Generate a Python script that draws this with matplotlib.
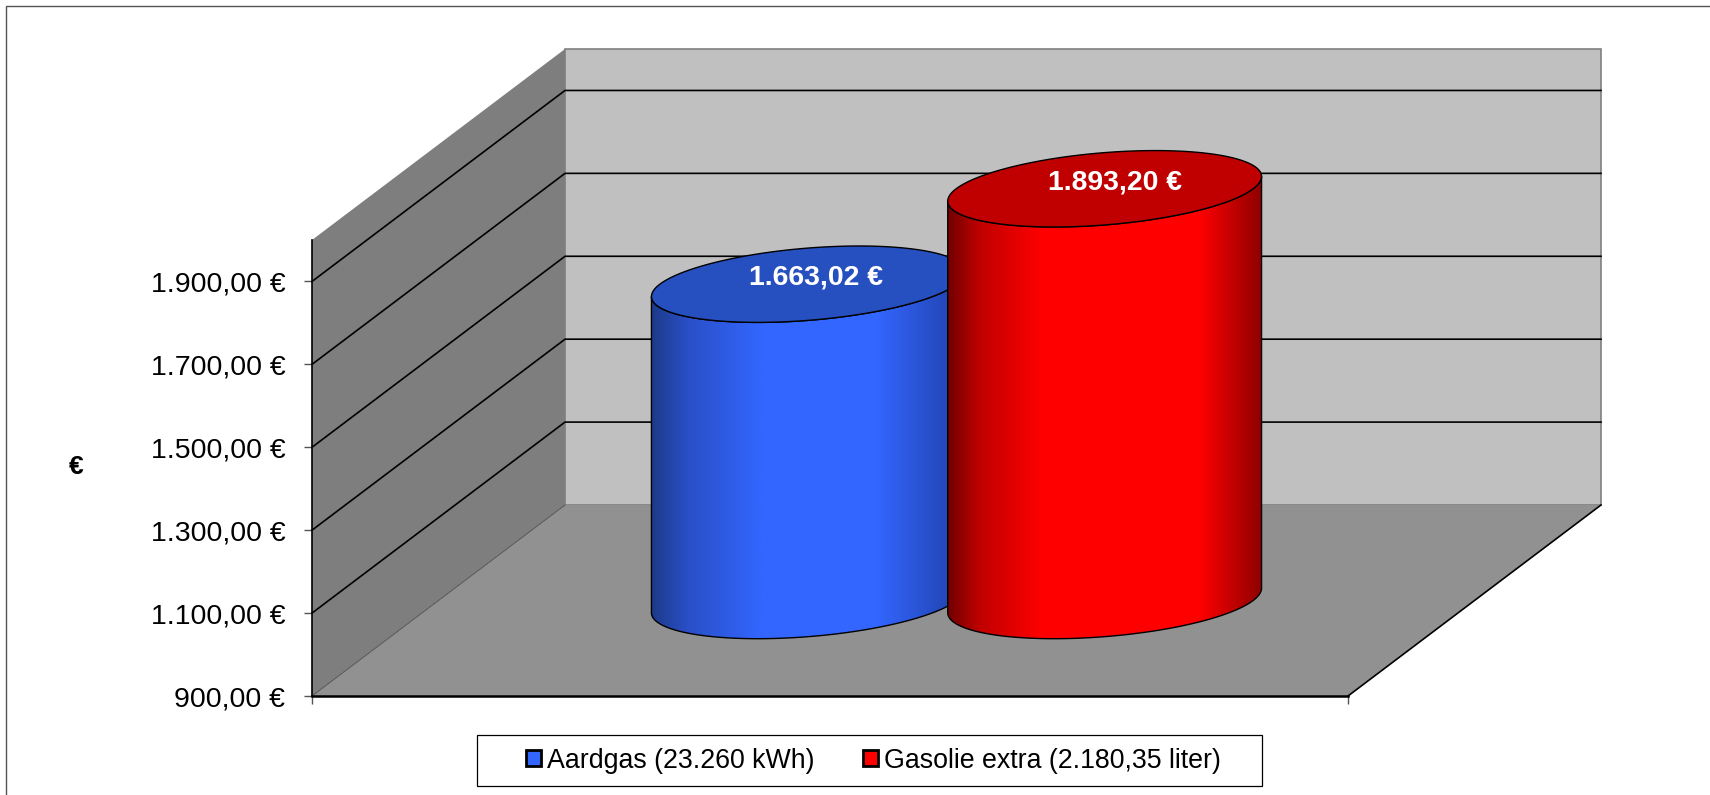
import numpy as np
import matplotlib
matplotlib.use("Agg")
import matplotlib.pyplot as plt
from matplotlib.colors import LinearSegmentedColormap
from matplotlib.patches import Patch, Polygon, Rectangle

plt.rcParams['font.family'] = ['Liberation Sans', 'DejaVu Sans']

series = ["Aardgas (23.260 kWh)", "Gasolie extra (2.180,35 liter)"]
values = [1663.02, 1893.20]
value_labels = ["1.663,02 €", "1.893,20 €"]
y_ticks = [900, 1100, 1300, 1500, 1700, 1900]
y_tick_labels = ["900,00 €", "1.100,00 €", "1.300,00 €", "1.500,00 €", "1.700,00 €", "1.900,00 €"]
y_min, y_max = 900, 2000

# look of the cylinders: left edge to right edge, then lid
blue_cols = [(0, "#1d3a8a"), (0.12, "#2a50c8"), (0.35, "#3366ff"), (0.72, "#3366ff"), (1, "#2040a8")]
red_cols = [(0, "#730000"), (0.1, "#c00000"), (0.3, "#ff0000"), (0.8, "#ff0000"), (1, "#8f0000")]
lid_cols = ["#2650bf", "#c00000"]

# sizes of the 3d box, in reference pixels
left, right, bottom, top = 312, 1348, 696, 240
depth_x = 253 / (right - left)
depth_y = 191 / ((bottom - top) / (y_max - y_min))


def project(x, y, d):
    # d = 0 front of the box, d = 1 back of the box
    return x + d * depth_x, y + d * depth_y


fig = plt.figure(figsize=(17.1, 7.95), dpi=100)
ax = fig.add_axes([left / 1710, 1 - bottom / 795, (right - left) / 1710, (bottom - top) / 795])
ax.patch.set_visible(False)

fig.add_artist(Rectangle((6 / 1710, -0.05), 1.1, 1.05 - 6 / 795, transform=fig.transFigure,
                         fill=False, ec="#555555", lw=1.0))

# walls and floor
corners = [(0, y_min, 0), (0, y_max, 0), (0, y_max, 1), (0, y_min, 1)]
ax.fill(*zip(*[project(*c) for c in corners]), color="#7e7e7e", lw=0, clip_on=False, zorder=1)
corners = [(0, y_min, 1), (0, y_max, 1), (1, y_max, 1), (1, y_min, 1)]
ax.fill(*zip(*[project(*c) for c in corners]), fc="#c0c0c0", ec="#808080", lw=1.2, clip_on=False, zorder=1)
corners = [(0, y_min, 0), (1, y_min, 0), (1, y_min, 1), (0, y_min, 1)]
ax.fill(*zip(*[project(*c) for c in corners]), color="#919191", lw=0, clip_on=False, zorder=1.1)

xs, ys = zip(project(0, y_min, 0), project(0, y_min, 1))
ax.plot(xs, ys, color="#555555", lw=0.7, clip_on=False, zorder=1.2)
xs, ys = zip(project(1, y_min, 0), project(1, y_min, 1))
ax.plot(xs, ys, color="black", lw=1.2, clip_on=False, zorder=1.2)

# gridlines go over the side wall and along the back
for tick in y_ticks[1:]:
    xs, ys = zip(project(0, tick, 0), project(0, tick, 1), project(1, tick, 1))
    ax.plot(xs, ys, color="black", lw=1.2, clip_on=False, zorder=1.5)

# cylinders
bar_x = [0.357, 0.643]
bar_w = 0.2867
rad_d = 0.2
tan_t = np.arctan2(rad_d * depth_x * 1036, (bar_w / 2) * 1036)
arc = np.linspace(tan_t + np.pi, tan_t + 2 * np.pi, 120)
full = np.linspace(0, 2 * np.pi, 240)


def cylinder(xc, value, cols, lid, z):
    bx, by = project(xc + bar_w / 2 * np.cos(arc), y_min, 0.5 + rad_d * np.sin(arc))
    tx, ty = project(xc + bar_w / 2 * np.cos(arc), value, 0.5 + rad_d * np.sin(arc))
    outline = np.column_stack([np.r_[bx, tx[::-1]], np.r_[by, ty[::-1]]])
    body = Polygon(outline, closed=True, transform=ax.transData, fc="none", ec="black", lw=1.0,
                   clip_on=False, zorder=z + 0.1)
    ax.add_patch(body)
    cmap = LinearSegmentedColormap.from_list("cyl", cols)
    im = ax.imshow(np.linspace(0, 1, 256)[None, :], cmap=cmap, aspect="auto", zorder=z,
                   extent=(outline[:, 0].min(), outline[:, 0].max(), outline[:, 1].min(), outline[:, 1].max()))
    im.set_clip_path(body)
    im.set_clip_box(fig.bbox)
    lx, ly = project(xc + bar_w / 2 * np.cos(full), value, 0.5 + rad_d * np.sin(full))
    ax.fill(lx, ly, fc=lid, ec="black", lw=1.0, clip_on=False, zorder=z + 0.2)


cylinder(bar_x[0], values[0], blue_cols, lid_cols[0], 2)
cylinder(bar_x[1], values[1], red_cols, lid_cols[1], 3)

label_off = [(7.5, 6.5), (10.6, 6)]
for i in range(2):
    px, py = project(bar_x[i], values[i], 0.5)
    ax.annotate(value_labels[i], (px, py), xytext=label_off[i], textcoords="offset pixels",
                ha="center", va="center", color="white", fontsize=20.4, fontweight="bold",
                annotation_clip=False, zorder=5)

ax.set_xlim(0, 1)
ax.set_ylim(y_min, y_max)
ax.set_xticks([0, 1])
ax.set_xticklabels([])
ax.set_yticks(y_ticks)
ax.set_yticklabels(y_tick_labels)
ax.tick_params(axis="y", length=5.8, width=1, color="#555555", labelsize=20.5, pad=13.5)
ax.tick_params(axis="x", length=5.8, width=1, color="#555555")
for side in ["top", "right"]:
    ax.spines[side].set_visible(False)
ax.spines["left"].set_linewidth(1.2)
ax.spines["left"].set_zorder(1.6)
ax.spines["bottom"].set_linewidth(1.8)
ax.spines["bottom"].set_zorder(1.6)

ax.set_ylabel("€", rotation=0, fontsize=19, fontweight="bold", ha="center", va="center")
ax.yaxis.set_label_coords((76 - left) / (right - left), (bottom - 467) / (bottom - top))

handles = [Patch(fc="#3366ff", ec="black", lw=2), Patch(fc="#ff0000", ec="black", lw=2)]
fig.legend(handles, series, ncol=2, loc="center",
           bbox_to_anchor=(481 / 1710, 1 - 786 / 795, 785 / 1710, 51 / 795),
           fontsize=19.25, frameon=True, fancybox=False, framealpha=1, edgecolor="black",
           handlelength=0.55, handleheight=0.55, handletextpad=0.25, columnspacing=1.8,
           borderpad=0, borderaxespad=0)
leg_box = Rectangle((477 / 1710, 1 - 786 / 795), 785 / 1710, 51 / 795, transform=fig.transFigure,
                    fill=False, ec="black", lw=0.9)
fig.legends[0].get_frame().set_visible(False)
fig.add_artist(leg_box)

fig.savefig("out.png", dpi=100)
